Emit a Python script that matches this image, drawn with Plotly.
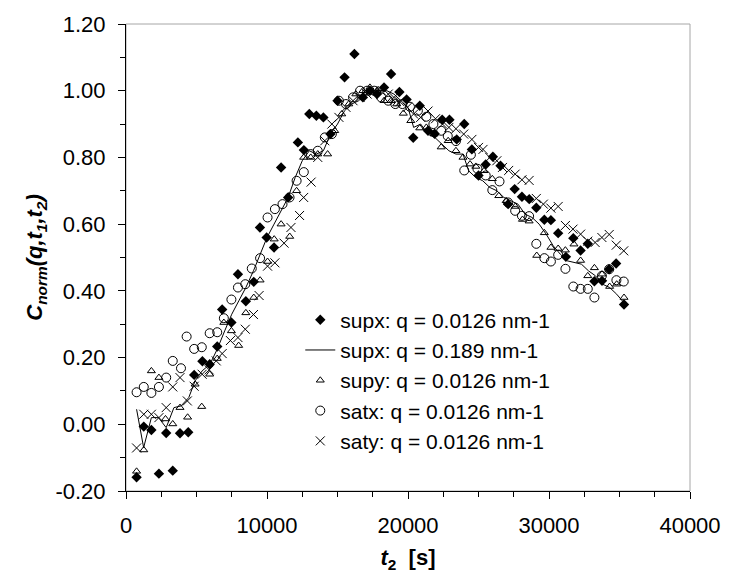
import plotly.graph_objects as go

# ---- data ----
supx_a_t = [750, 1260, 1800, 2335, 2850, 3316, 3830, 4415, 4835, 5420, 5935, 6470, 6820, 7475, 7940, 8500, 9060, 9500,
            9975, 10500, 11000, 11500, 12190, 12615, 13000, 13500, 14000, 14500, 15000, 15500, 16200, 16800, 17300,
            17800, 18300, 18800, 19390, 19900, 20370, 20835, 21420, 21890, 22425, 22940, 23455, 23990, 24530, 25000,
            25510, 26020, 26560, 27100, 27565, 28080, 28600, 29100, 29670, 30135, 30650, 31200, 31725, 32240, 32750,
            33220, 33760, 34260, 34760, 35320]
supx_a_v = [-0.159, -0.007, -0.017, -0.148, -0.026, -0.139, -0.027, -0.024, 0.148, 0.189, 0.180, 0.233, 0.344, 0.305,
            0.45, 0.369, 0.427, 0.59, 0.56, 0.53, 0.77, 0.68, 0.845, 0.822, 0.93, 0.925, 0.92, 0.87, 0.97, 1.04, 1.11,
            0.98, 1.00, 0.99, 1.01, 1.05, 0.996, 0.974, 0.859, 0.955, 0.88, 0.871, 0.913, 0.913, 0.854, 0.90, 0.824,
            0.746, 0.779, 0.802, 0.775, 0.66, 0.705, 0.682, 0.675, 0.649, 0.613, 0.612, 0.573, 0.502, 0.558, 0.521,
            0.541, 0.429, 0.43, 0.465, 0.482, 0.359]

supx_b_t = [750, 1250, 1800, 2300, 2850, 3400, 3900, 4450, 4900, 5400, 5950, 6470, 7000, 7500, 8000, 8500, 9040, 9500,
            10000, 10500, 11000, 11500, 12000, 12500, 13000, 13500, 14000, 14500, 15000, 15500, 16000, 16500, 17000,
            17500, 18000, 18500, 19000, 19500, 20000, 20400, 20900, 21400, 21900, 22400, 22900, 23400, 23900, 24300,
            24800, 25300, 25800, 26300, 26800, 27300, 27800, 28300, 28800, 29300, 29800, 30300, 30800, 31300, 31800,
            32300, 32800, 33300, 33800, 34300, 34800, 35300]
supx_b_v = [0.045, -0.07, 0.02, 0.02, -0.01, 0.05, 0.055, 0.08, 0.13, 0.16, 0.18, 0.225, 0.28, 0.33, 0.37, 0.41, 0.46,
            0.51, 0.56, 0.60, 0.64, 0.68, 0.74, 0.79, 0.82, 0.81, 0.82, 0.87, 0.90, 0.94, 0.96, 0.97, 0.99, 1.00, 1.00,
            1.00, 0.99, 0.97, 0.95, 0.89, 0.90, 0.87, 0.86, 0.84, 0.82, 0.81, 0.81, 0.76, 0.74, 0.73, 0.71, 0.70, 0.68,
            0.67, 0.66, 0.63, 0.62, 0.60, 0.57, 0.535, 0.51, 0.49, 0.485, 0.48, 0.46, 0.445, 0.42, 0.41, 0.39, 0.365]

supy_t = [750, 1260, 1800, 2335, 2800, 3316, 3830, 4370, 4900, 5370, 5935, 6470, 6940, 7475, 7990, 8500, 9060, 9510,
          10040, 10510, 11000, 11610, 12100, 12600, 13100, 13600, 14300, 14800, 15300, 15800, 16300, 16800, 17300,
          17800, 18300, 18800, 19200, 19670, 20200, 20835, 21300, 21850, 22355, 22850, 23400, 23900, 24400, 24810,
          25400, 25980, 26440, 26960, 27610, 28120, 28590, 29130, 29670, 30135, 30650, 31160, 31770, 32240, 32750,
          33220, 33760, 34300, 34800, 35320]
supy_v = [-0.141, -0.077, 0.16, 0.14, 0.016, 0.001, 0.05, 0.021, 0.12, 0.053, 0.15, 0.197, 0.305, 0.28, 0.236, 0.334,
          0.38, 0.432, 0.488, 0.555, 0.60, 0.563, 0.70, 0.80, 0.80, 0.81, 0.81, 0.88, 0.93, 0.96, 0.99, 1.00, 1.01,
          1.00, 0.97, 0.97, 0.96, 0.932, 0.91, 0.888, 0.89, 0.87, 0.831, 0.85, 0.82, 0.80, 0.78, 0.773, 0.76, 0.736,
          0.685, 0.67, 0.653, 0.614, 0.609, 0.506, 0.574, 0.53, 0.527, 0.522, 0.54, 0.491, 0.445, 0.469, 0.45, 0.413,
          0.42, 0.38]

satx_t = [750, 1260, 1800, 2335, 2850, 3316, 3900, 4300, 4835, 5375, 5935, 6470, 6940, 7475, 7940, 8460, 8920, 9510,
          10040, 10560, 11100, 11600, 12100, 12610, 13100, 13600, 14100, 14600, 15100, 15600, 16100, 16600, 17100,
          17600, 18100, 18600, 19100, 19600, 20140, 20700, 21300, 21800, 22355, 22820, 23400, 23990, 24460, 24925,
          25510, 25980, 26490, 27100, 27600, 28080, 28590, 29100, 29670, 30135, 30650, 31165, 31725, 32240, 32750,
          33220, 33750, 34270, 34780, 35300]
satx_v = [0.096, 0.112, 0.094, 0.112, 0.14, 0.19, 0.168, 0.263, 0.226, 0.231, 0.273, 0.276, 0.318, 0.374, 0.41, 0.42,
          0.467, 0.498, 0.62, 0.645, 0.66, 0.68, 0.73, 0.756, 0.81, 0.82, 0.86, 0.87, 0.97, 0.96, 0.98, 1.00, 1.00,
          1.00, 0.98, 0.97, 0.96, 0.96, 0.952, 0.94, 0.922, 0.90, 0.88, 0.864, 0.849, 0.761, 0.808, 0.766, 0.746,
          0.702, 0.728, 0.665, 0.64, 0.625, 0.624, 0.541, 0.498, 0.488, 0.508, 0.466, 0.413, 0.406, 0.406, 0.38,
          0.445, 0.465, 0.432, 0.428]

saty_t = [750, 1260, 1800, 2335, 2850, 3316, 3830, 4350, 4835, 5400, 5900, 6400, 6820, 7405, 7940, 8460, 9040, 9440,
          10040, 10560, 11210, 11700, 12310, 12600, 13130, 13600, 14100, 14600, 15100, 15600, 16100, 16600, 17100,
          17600, 18100, 18600, 19000, 19430, 19950, 20400, 20900, 21420, 21950, 22450, 22900, 23400, 23950, 24530,
          25000, 25320, 25800, 26300, 26700, 27140, 27600, 28080, 28590, 29100, 29600, 30135, 30650, 31165, 31700,
          32240, 32750, 33270, 33750, 34270, 34770, 35300]
saty_v = [-0.071, 0.03, 0.03, 0.02, 0.05, 0.112, 0.14, 0.07, 0.114, 0.15, 0.163, 0.19, 0.212, 0.251, 0.26, 0.285,
          0.329, 0.386, 0.474, 0.484, 0.543, 0.59, 0.626, 0.68, 0.726, 0.80, 0.85, 0.90, 0.92, 0.95, 0.97, 0.98, 0.99,
          1.00, 1.00, 0.99, 0.98, 0.967, 0.95, 0.93, 0.92, 0.939, 0.916, 0.90, 0.89, 0.886, 0.87, 0.854, 0.83, 0.824,
          0.80, 0.79, 0.77, 0.761, 0.75, 0.733, 0.731, 0.677, 0.66, 0.648, 0.653, 0.596, 0.585, 0.57, 0.549, 0.545,
          0.56, 0.569, 0.537, 0.52]

names = ["supx: q = 0.0126 nm-1", "supx: q = 0.189 nm-1", "supy: q = 0.0126 nm-1",
         "satx: q = 0.0126 nm-1", "saty: q = 0.0126 nm-1"]
x_ticks = [0, 10000, 20000, 30000, 40000]
y_ticks = [-0.2, 0.0, 0.2, 0.4, 0.6, 0.8, 1.0, 1.2]

FONT = "Liberation Sans, Arial, sans-serif"
BLACK = "#000000"

fig = go.Figure()
fig.add_trace(go.Scatter(x=supx_a_t, y=supx_a_v, mode="markers", name=names[0],
                         marker=dict(symbol="diamond", size=8, color=BLACK, line=dict(width=0))))
fig.add_trace(go.Scatter(x=supx_b_t, y=supx_b_v, mode="lines", name=names[1],
                         line=dict(color=BLACK, width=1)))
fig.add_trace(go.Scatter(x=supy_t, y=supy_v, mode="markers", name=names[2],
                         marker=dict(symbol="triangle-up-open", size=7, color=BLACK, line=dict(width=1, color=BLACK))))
fig.add_trace(go.Scatter(x=satx_t, y=satx_v, mode="markers", name=names[3],
                         marker=dict(symbol="circle-open", size=9, color=BLACK, line=dict(width=1, color=BLACK))))
fig.add_trace(go.Scatter(x=saty_t, y=saty_v, mode="markers", name=names[4],
                         marker=dict(symbol="x-thin-open", size=9, color=BLACK, line=dict(width=1, color=BLACK))))

fig.update_layout(
    width=733, height=582,
    margin=dict(l=126, r=36, t=16, b=91),
    paper_bgcolor="white", plot_bgcolor="white",
    font=dict(family=FONT, size=22, color=BLACK),
    showlegend=True,
    legend=dict(x=0.309, y=0.41, xanchor="left", yanchor="top", bgcolor="rgba(0,0,0,0)",
                font=dict(family=FONT, size=21, color=BLACK), tracegroupgap=0, itemwidth=30),
    shapes=[dict(type="rect", xref="paper", yref="paper", x0=0, x1=1, y0=0, y1=1,
                 line=dict(color="#a6a6a6", width=1), layer="below")],
)
fig.update_xaxes(
    range=[0, 40000], tickmode="array", tickvals=x_ticks, ticktext=[str(v) for v in x_ticks],
    ticks="outside", ticklen=7, tickwidth=1, tickcolor=BLACK, ticklabelstandoff=8,
    minor=dict(dtick=2500, tick0=0, ticks="outside", ticklen=5, tickwidth=1, tickcolor=BLACK),
    showline=True, linecolor=BLACK, linewidth=1, showgrid=False, zeroline=False,
    tickfont=dict(family=FONT, size=22, color=BLACK),
    title=dict(text="<b><i>t</i><sub>2</sub>  [s]</b>", font=dict(family=FONT, size=22, color=BLACK), standoff=12),
)
fig.update_yaxes(
    range=[-0.2, 1.2], tickmode="array", tickvals=y_ticks, ticktext=[f"{v:.2f}" for v in y_ticks],
    ticks="outside", ticklen=7, tickwidth=1, tickcolor=BLACK, ticklabelstandoff=8,
    minor=dict(dtick=0.1, tick0=0, ticks="outside", ticklen=5, tickwidth=1, tickcolor=BLACK),
    showline=True, linecolor=BLACK, linewidth=1, showgrid=False, zeroline=False,
    tickfont=dict(family=FONT, size=22, color=BLACK),
    title=dict(text="<b><i>C<sub>norm</sub>(q,t<sub>1</sub>,t<sub>2</sub>)</i></b>",
               font=dict(family=FONT, size=22, color=BLACK), standoff=6),
)

fig.write_html("out.html")
